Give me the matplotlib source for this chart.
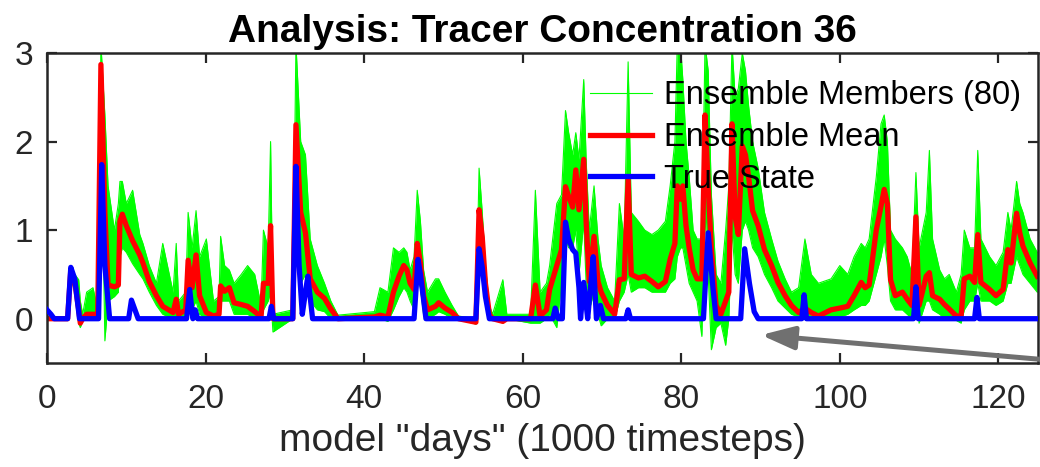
import matplotlib.pyplot as plt
from matplotlib.lines import Line2D

plt.rcParams['font.family'] = ['Liberation Sans', 'DejaVu Sans']

# ensemble mean and spread of the 80 members (model days)
mean_days = [0.0, 2.6, 3.0, 3.5, 4.0, 4.2, 4.5, 5.0, 5.8, 6.4,
             6.8, 7.3, 7.7, 8.5, 9.0, 9.2, 9.5, 10.0, 10.8, 11.7,
             12.1, 12.9, 13.8, 14.6, 15.9, 16.3, 16.6, 17.5, 17.8, 18.3,
             18.8, 19.25, 20.1, 21.0, 21.7, 21.9, 22.4, 23.0, 23.6, 24.5,
             25.3, 26.2, 27.0, 27.3, 27.9, 28.2, 28.5, 31.0, 31.4, 32.0,
             32.6, 33.2, 34.1, 35.0, 35.8, 36.7, 41.3, 42.0, 43.0, 43.7,
             44.4, 45.0, 45.4, 45.8, 46.3, 46.7, 47.1, 47.5, 48.0, 49.0,
             49.4, 50.2, 51.1, 51.9, 54.1, 54.5, 54.9, 55.3, 55.8, 56.2,
             57.5, 58.0, 61.0, 61.6, 62.2, 63.0, 63.4, 64.3, 64.9, 65.4,
             65.8, 66.3, 66.7, 67.1, 67.7, 68.0, 68.4, 69.0, 69.5, 69.9,
             70.7, 71.6, 72.2, 72.8, 73.3, 73.7, 74.6, 75.4, 76.3, 77.1,
             78.0, 78.6, 79.2, 79.5, 79.9, 80.2, 80.6, 81.0, 81.5, 82.0,
             82.6, 83.0, 83.4, 83.8, 84.4, 85.0, 85.6, 86.0, 86.4, 86.8,
             87.2, 87.7, 88.1, 88.5, 89.0, 89.7, 90.5, 91.4, 92.2, 93.1,
             93.9, 94.8, 95.6, 96.4, 97.3, 98.9, 100.0, 101.0, 101.8, 102.7,
             103.2, 103.7, 104.6, 105.2, 105.6, 106.0, 106.4, 107.0, 107.9, 108.5,
             109.1, 109.6, 110.0, 110.9, 111.3, 111.7, 112.6, 113.2, 113.8, 114.7,
             115.3, 115.7, 116.4, 117.0, 117.4, 117.8, 118.9, 119.7, 120.6, 121.2,
             121.6, 122.3, 122.7, 123.1, 124.0, 124.9]

mean_vals = [0.0, 0.0, 0.55, 0.42, 0.10, -0.05, 0.0, 0.05, 0.05, 0.05,
             2.87, 1.20, 0.38, 0.36, 0.38, 1.10, 1.18, 1.05, 0.88, 0.72,
             0.63, 0.42, 0.26, 0.14, 0.07, 0.22, 0.05, 0.10, 0.66, 0.35,
             0.72, 0.26, 0.07, 0.03, 0.05, 0.37, 0.31, 0.35, 0.18, 0.16,
             0.14, 0.08, 0.02, 0.40, 0.40, 1.05, 0.0, 0.0, 2.19, 1.20,
             0.97, 0.45, 0.30, 0.23, 0.11, 0.0, 0.02, 0.04, 0.02, 0.30,
             0.48, 0.60, 0.55, 0.40, 0.33, 0.85, 0.63, 0.26, 0.10, 0.14,
             0.18, 0.12, 0.07, 0.0, -0.04, 1.23, 0.92, 0.40, 0.05, 0.0,
             -0.03, 0.0, 0.0, 0.38, 0.03, 0.10, 0.33, 0.60, 0.78, 1.49,
             1.38, 1.26, 1.68, 1.23, 1.80, 1.10, 0.42, 0.93, 0.42, 0.30,
             0.15, 0.05, 0.44, 0.45, 1.57, 0.50, 0.46, 0.48, 0.42, 0.36,
             0.42, 0.67, 0.85, 1.50, 1.35, 1.50, 1.05, 0.80, 0.55, 0.45,
             0.45, 2.30, 1.50, 0.78, 0.15, 0.05, 0.20, 0.30, 2.20, 1.15,
             0.95, 1.95, 1.85, 1.60, 1.22, 1.05, 0.78, 0.60, 0.41, 0.26,
             0.15, 0.07, 0.12, 0.07, 0.03, 0.10, 0.12, 0.14, 0.26, 0.41,
             0.35, 0.38, 1.00, 1.27, 1.46, 1.30, 0.44, 0.26, 0.30, 0.22,
             0.15, 1.15, 0.15, 0.48, 0.52, 0.26, 0.22, 0.16, 0.11, 0.03,
             0.03, 0.45, 0.48, 0.41, 0.95, 0.41, 0.33, 0.26, 0.33, 0.78,
             0.63, 1.19, 0.97, 0.82, 0.63, 0.48]

# highest and lowest member at each of the mean_days
ens_hi = [0.02, 0.02, 0.60, 0.50, 0.44, 0.20, 0.05, 0.30, 0.35, 0.10,
          3.10, 2.30, 1.50, 1.00, 1.30, 1.55, 1.55, 1.30, 1.45, 0.95,
          0.85, 0.60, 0.40, 0.85, 0.30, 0.85, 0.20, 0.30, 1.20, 0.80,
          1.22, 0.70, 0.90, 0.20, 0.25, 0.93, 0.60, 0.55, 0.40, 0.50,
          0.60, 0.50, 0.15, 1.00, 0.80, 2.00, 0.05, 0.10, 3.10, 2.00,
          1.85, 0.90, 0.60, 0.40, 0.20, 0.04, 0.08, 0.35, 0.30, 0.80,
          0.75, 0.80, 0.75, 0.55, 0.70, 1.45, 1.10, 0.55, 0.30, 0.45,
          0.45, 0.30, 0.15, 0.03, 0.0, 1.70, 1.20, 0.60, 0.15, 0.05,
          0.44, 0.05, 0.05, 1.45, 0.30, 0.40, 0.60, 1.30, 1.40, 2.35,
          2.10, 1.85, 2.10, 1.80, 2.70, 1.80, 1.00, 1.50, 0.90, 0.60,
          0.35, 0.20, 1.30, 0.90, 2.90, 1.20, 1.10, 1.00, 0.95, 1.00,
          1.10, 1.50, 2.00, 3.10, 3.10, 2.70, 2.00, 1.60, 1.00, 0.90,
          0.90, 3.10, 2.80, 1.40, 0.50, 0.40, 1.00, 1.50, 3.10, 2.50,
          2.60, 3.00, 2.80, 2.40, 2.00, 1.70, 1.20, 0.90, 0.65, 0.45,
          0.30, 0.35, 0.90, 0.50, 0.40, 0.45, 0.60, 0.50, 0.70, 0.85,
          0.80, 0.90, 1.60, 2.20, 2.30, 2.00, 1.00, 0.90, 0.80, 0.70,
          0.50, 1.65, 0.80, 1.20, 1.90, 0.90, 0.55, 0.45, 0.50, 0.30,
          0.50, 1.00, 0.80, 0.80, 1.90, 0.90, 0.70, 0.60, 0.75, 1.20,
          1.00, 1.55, 1.30, 1.20, 0.90, 0.75]

ens_lo = [-0.01, -0.02, 0.50, 0.30, -0.05, -0.10, -0.02, 0.0, 0.0, 0.0,
          2.40, -0.25, 0.20, 0.25, 0.30, 0.70, 0.80, 0.75, 0.62, 0.50,
          0.45, 0.30, 0.15, 0.05, 0.0, 0.0, -0.02, 0.0, 0.20, 0.10,
          0.20, 0.05, 0.0, 0.0, 0.0, 0.20, 0.20, 0.20, 0.05, 0.05,
          0.05, 0.0, -0.02, 0.10, 0.20, 0.30, -0.15, 0.0, 1.20, 0.40,
          0.50, 0.20, 0.10, 0.08, 0.0, 0.0, 0.0, 0.0, -0.03, 0.10,
          0.25, 0.35, 0.30, 0.20, 0.10, 0.45, 0.35, 0.05, 0.0, 0.05,
          0.08, 0.05, 0.0, -0.01, -0.06, 0.80, 0.60, 0.20, 0.0, 0.0,
          -0.05, 0.0, -0.05, -0.05, -0.05, 0.0, 0.05, -0.10, 0.40, 0.90,
          0.80, 0.80, 1.00, 0.50, 1.10, 0.40, 0.10, 0.30, 0.05, -0.08,
          0.0, 0.0, 0.20, 0.30, 0.50, 0.30, 0.35, 0.35, 0.30, 0.30,
          0.30, 0.40, 0.45, 0.70, 0.80, 0.80, 0.60, 0.40, 0.30, 0.20,
          -0.20, 1.20, 0.50, -0.35, -0.10, -0.05, -0.30, 0.0, 1.00, 0.50,
          0.40, 1.00, 1.10, 1.00, 0.80, 0.70, 0.50, 0.35, 0.20, 0.12,
          0.05, 0.02, 0.0, 0.0, 0.0, 0.02, 0.02, 0.05, 0.10, 0.15,
          0.15, 0.20, 0.50, 0.70, 0.90, 0.60, 0.20, 0.10, 0.10, 0.05,
          0.0, 0.40, -0.05, 0.20, 0.20, 0.10, 0.05, 0.0, 0.0, -0.02,
          -0.05, 0.10, 0.20, 0.20, 0.40, 0.20, 0.20, 0.15, 0.20, 0.40,
          0.40, 0.70, 0.60, 0.50, 0.40, 0.30]

# true tracer concentration
truth_days = [0.0, 0.5, 0.9, 2.6, 3.0, 3.5, 4.1, 6.5, 6.9, 7.3,
              7.9, 10.3, 10.65, 11.5, 17.6, 18.0, 18.4, 18.7, 19.0, 28.0,
              28.3, 28.6, 31.0, 31.4, 31.8, 32.2, 32.6, 32.9, 33.5, 46.3,
              46.8, 47.1, 47.8, 54.1, 54.5, 54.9, 55.3, 55.8, 63.8, 64.1,
              64.5, 65.0, 65.4, 65.8, 66.3, 66.7, 67.1, 67.3, 67.7, 68.2,
              68.5, 68.9, 69.3, 69.8, 70.2, 73.0, 73.3, 73.6, 82.8, 83.4,
              84.0, 84.4, 87.5, 88.0, 88.6, 89.2, 89.7, 95.2, 95.5, 95.8,
              109.3, 109.6, 109.9, 117.0, 117.3, 117.6, 125.0]
truth_vals = [0.10, 0.05, 0.0, 0.0, 0.58, 0.45, 0.0, 0.0, 1.74, 0.60,
              0.0, 0.0, 0.21, 0.0, 0.0, 0.33, 0.0, 0.10, 0.0, 0.0,
              0.14, 0.0, 0.0, 1.72, 0.60, 0.05, 0.30, 0.48, 0.0, 0.0,
              0.67, 0.50, 0.0, 0.0, 0.79, 0.58, 0.25, 0.0, 0.0, 0.12,
              0.0, 0.0, 1.09, 0.90, 0.78, 0.74, 0.35, 0.0, 0.41, 0.0,
              0.30, 0.70, 0.0, 0.15, 0.0, 0.0, 0.10, 0.0, 0.0, 0.97,
              0.35, 0.0, 0.0, 0.79, 0.40, 0.08, 0.0, 0.0, 0.27, 0.0,
              0.0, 0.36, 0.0, 0.0, 0.24, 0.0, 0.0]

n_members = 80
green = (0.0, 1.0, 0.0)
axis_col = '#262626'

fig = plt.figure(figsize=(10.4, 4.67), dpi=100)
ax = fig.add_axes([47 / 1040, 104 / 467, 991 / 1040, 310 / 467])

# ensemble members: filled spread with its outer members
ax.fill_between(mean_days, ens_lo, ens_hi, color=green, lw=0, zorder=1)
ax.plot(mean_days, ens_hi, color=green, lw=0.8, zorder=1)
ax.plot(mean_days, ens_lo, color=green, lw=0.8, zorder=1)

ax.plot(mean_days, mean_vals, color='r', lw=3.8, solid_joinstyle='round', zorder=2)
ax.plot(truth_days, truth_vals, color='b', lw=3.8, solid_joinstyle='round', zorder=3)

ax.set_xlim(0, 125)
ax.set_ylim(-0.5, 3)
ax.set_xticks([0, 20, 40, 60, 80, 100, 120])
ax.set_yticks([0, 1, 2, 3])

for side in ax.spines:
    ax.spines[side].set_linewidth(1.8)
    ax.spines[side].set_color(axis_col)
ax.tick_params(direction='in', length=7, width=1.6, color=axis_col,
               top=True, right=True, labelsize=24, labelcolor='#262626')
ax.tick_params(axis='x', pad=15)
ax.tick_params(axis='y', pad=10)

ax.set_title('Analysis: Tracer Concentration 36', fontsize=28,
             fontweight='bold', pad=8)
ax.set_xlabel('model "days" (1000 timesteps)', fontsize=28,
              color='#262626', labelpad=6)

handles = [Line2D([], [], color=green, lw=0.8),
           Line2D([], [], color='r', lw=3.8),
           Line2D([], [], color='b', lw=3.8)]
labels = [f'Ensemble Members ({n_members})', 'Ensemble Mean', 'True State']
leg = ax.legend(handles, labels, loc='upper left', frameon=False,
                bbox_to_anchor=(574 / 1040, 1 - 64 / 467),
                bbox_transform=fig.transFigure, borderpad=0,
                handlelength=1.9, handletextpad=0.35, labelspacing=0.33,
                fontsize=23.5)
leg.set_zorder(5)

# grey pointer into the quiet stretch after day 90
ax.annotate('', xy=(761, 467 - 335), xycoords='figure pixels',
            xytext=(1048, 467 - 360), textcoords='figure pixels',
            arrowprops=dict(arrowstyle='-|>,head_length=2.0,head_width=0.7',
                            color='#707070', lw=3.6, shrinkA=0, shrinkB=0),
            annotation_clip=False, zorder=6)

fig.savefig('out.png', dpi=100)
